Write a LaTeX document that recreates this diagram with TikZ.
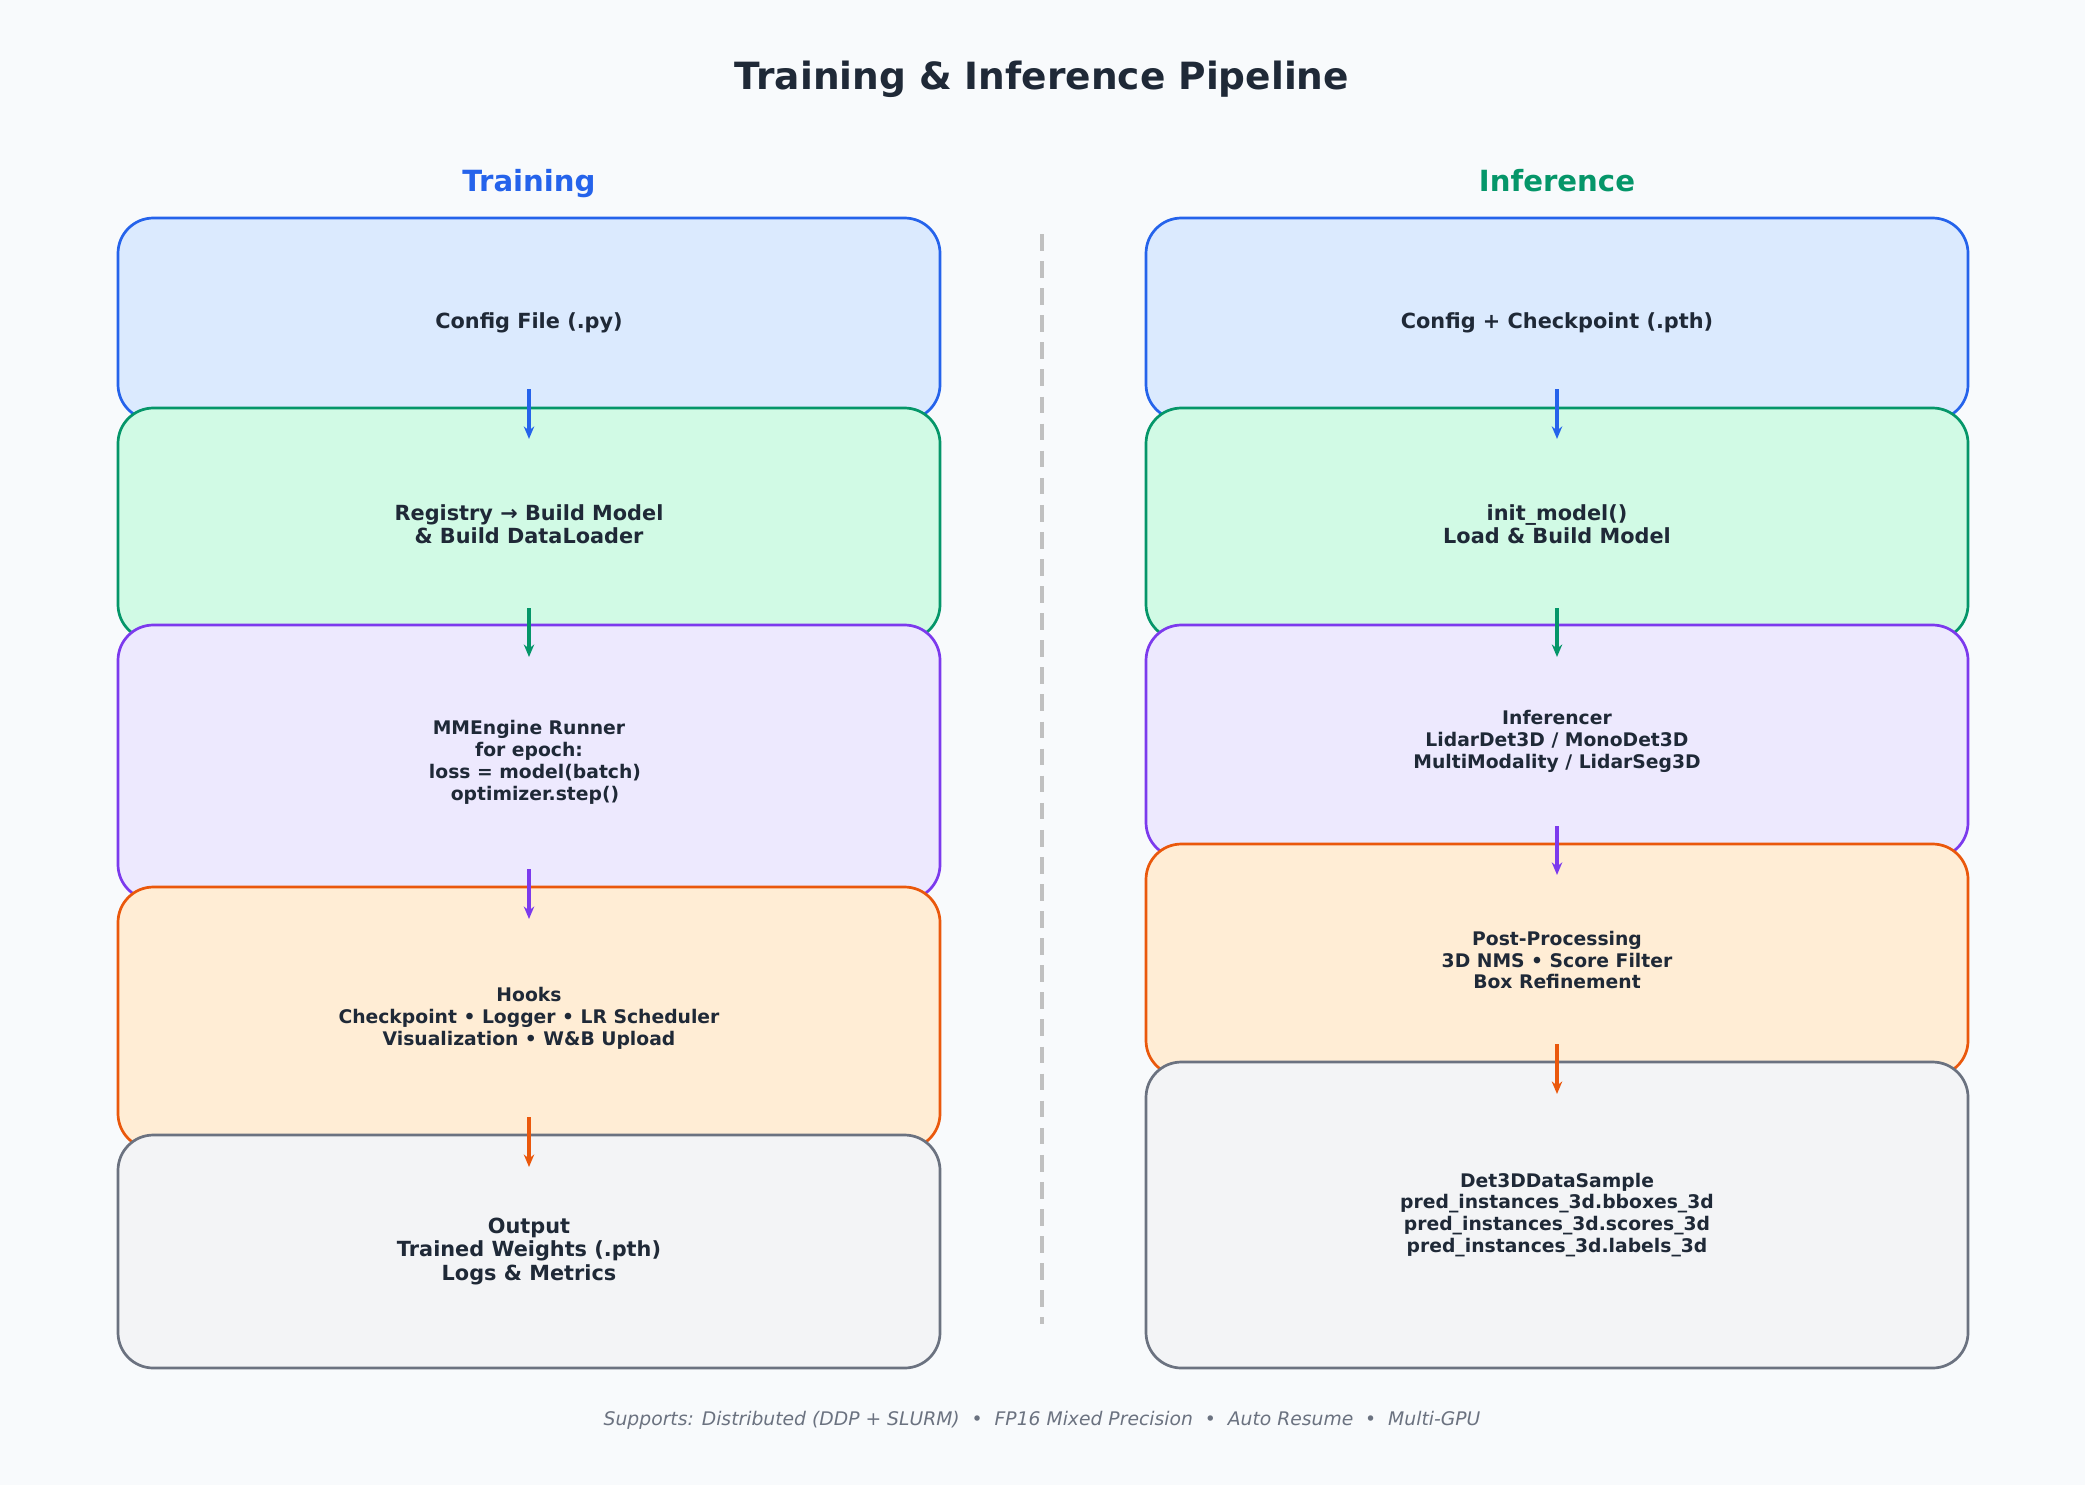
\documentclass[tikz,border=0pt]{standalone}
\usepackage{fontspec}
\setmainfont{DejaVu Sans}
\usetikzlibrary{arrows.meta}
\definecolor{bgc}{HTML}{F8FAFC}
\definecolor{ink}{HTML}{1F2937}
\definecolor{muted}{HTML}{6B7280}
\definecolor{blueE}{HTML}{2563EB}\definecolor{blueF}{HTML}{DBEAFE}
\definecolor{greenE}{HTML}{059669}\definecolor{greenF}{HTML}{D1FAE5}
\definecolor{purpE}{HTML}{7C3AED}\definecolor{purpF}{HTML}{EDE9FE}
\definecolor{orgE}{HTML}{EA580C}\definecolor{orgF}{HTML}{FFEDD5}
\definecolor{grayE}{HTML}{6B7280}\definecolor{grayF}{HTML}{F3F4F6}
\definecolor{dashc}{HTML}{C0C0C0}
\tikzset{
  card/.style={draw, line width=1.3pt, rounded corners=17pt, minimum width=394.56pt,
    align=center, text=ink, inner sep=0pt},
  bigtxt/.style={font=\fontsize{10}{11.2}\selectfont\bfseries},
  smalltxt/.style={font=\fontsize{9}{10.5}\selectfont\bfseries},
  flow/.style={line width=1.5pt, -{Stealth[length=6pt,width=5pt]}},
  hdr/.style={font=\fontsize{14}{16}\selectfont\bfseries}
}
\begin{document}
\begin{tikzpicture}[x=0.48pt,y=-0.48pt]
\useasboundingbox (0,0) rectangle (2085,1485);
\fill[bgc] (0,0) rectangle (2085,1485);

\node[font=\fontsize{18}{21}\selectfont\bfseries, text=ink] (title) at (1042,79) {Training \& Inference Pipeline};
\node[hdr, text=blueE] (htrain) at (529,184) {Training};
\node[hdr, text=greenE] (hinf) at (1557,181) {Inference};

% separator
\coordinate (dtop) at (1042,234);
\coordinate (dbot) at (1042,1324);
\draw[dashc, line width=1.5pt, dash pattern=on 8pt off 5pt] (dtop) -- (dbot);

% training column
\node[card, bigtxt, draw=blueE, fill=blueF, minimum height=96.96pt] (b1) at (529,319) {\rule{0pt}{11.5pt}Config File (.py)};
\node[card, bigtxt, draw=greenE, fill=greenF, minimum height=111.36pt] (b2) at (529,524) {Registry → Build Model\\\& Build DataLoader};
\node[card, smalltxt, draw=purpE, fill=purpF, minimum height=132pt] (b3) at (529,762.5) {MMEngine Runner\\for epoch:\\\hspace*{0.64em}loss = model(batch)\\\hspace*{0.64em}optimizer.step()};
\node[card, smalltxt, draw=orgE, fill=orgF, minimum height=125.76pt] (b4) at (529,1018) {Hooks\\Checkpoint • Logger • LR Scheduler\\Visualization • W\&B Upload};
\node[card, bigtxt, draw=grayE, fill=grayF, minimum height=111.84pt] (b5) at (529,1251.5) {Output\\Trained Weights (.pth)\\Logs \& Metrics};

% inference column
\node[card, bigtxt, draw=blueE, fill=blueF, minimum height=96.96pt] (r1) at (1557,319) {\rule{0pt}{11.5pt}Config + Checkpoint (.pth)};
\node[card, bigtxt, draw=greenE, fill=greenF, minimum height=111.36pt] (r2) at (1557,524) {init\_model()\\Load \& Build Model};
\node[card, smalltxt, draw=purpE, fill=purpF, minimum height=111.84pt] (r3) at (1557,741.5) {Inferencer\\LidarDet3D / MonoDet3D\\MultiModality / LidarSeg3D};
\node[card, smalltxt, draw=orgE, fill=orgF, minimum height=111.36pt] (r4) at (1557,960) {Post-Processing\\3D NMS • Score Filter\\Box Refinement};
\node[card, smalltxt, draw=grayE, fill=grayF, minimum height=146.88pt] (r5) at (1557,1215) {Det3DDataSample\\pred\_instances\_3d.bboxes\_3d\\pred\_instances\_3d.scores\_3d\\pred\_instances\_3d.labels\_3d};

% arrows
\draw[flow, blueE] ([yshift=15.5pt]b1.south) -- ([yshift=-15.5pt]b2.north);
\draw[flow, greenE] ([yshift=16pt]b2.south) -- ([yshift=-16pt]b3.north);
\draw[flow, purpE] ([yshift=15.5pt]b3.south) -- ([yshift=-16pt]b4.north);
\draw[flow, orgE] ([yshift=16pt]b4.south) -- ([yshift=-16pt]b5.north);
\draw[flow, blueE] ([yshift=15.5pt]r1.south) -- ([yshift=-15.5pt]r2.north);
\draw[flow, greenE] ([yshift=16pt]r2.south) -- ([yshift=-16pt]r3.north);
\draw[flow, purpE] ([yshift=16pt]r3.south) -- ([yshift=-15.5pt]r4.north);
\draw[flow, orgE] ([yshift=16pt]r4.south) -- ([yshift=-16pt]r5.north);

\node[font=\fontsize{9}{11}\selectfont\itshape, text=muted] (foot) at (1042,1420) {Supports: Distributed (DDP + SLURM)~~•~~FP16 Mixed Precision~~•~~Auto Resume~~•~~Multi-GPU};
\end{tikzpicture}
\end{document}
